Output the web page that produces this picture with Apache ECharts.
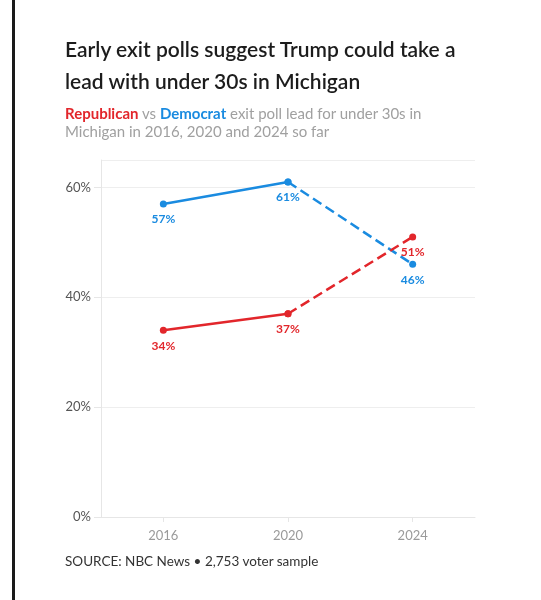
<!DOCTYPE html>
<html><head><meta charset="utf-8">
<script src="https://cdn.jsdelivr.net/npm/echarts@6/dist/echarts.min.js"></script>
<style>
body{margin:0;background:#fff;font-family:Lato,"Open Sans",sans-serif;}
#bar{position:absolute;left:12px;top:0;width:3px;height:600px;background:#1a1a1a;}
#t{position:absolute;left:65px;top:33px;width:420px;font-size:21px;line-height:32px;color:#1c1c1c;font-weight:600;}
#s{position:absolute;left:65px;top:104px;width:385px;font-size:15px;line-height:18px;color:#a0a0a0;}
#src{position:absolute;left:65px;top:553px;font-size:13.5px;color:#333;}
#c{position:absolute;left:0;top:0;width:541px;height:600px;}
</style></head><body>
<div id="c"></div>
<div id="bar"></div>
<div id="t">Early exit polls suggest Trump could take a lead with under 30s in Michigan</div>
<div id="s"><b style="color:#e2262b;font-weight:700">Republican</b> vs <b style="color:#1a8be0;font-weight:700">Democrat</b> exit poll lead for under 30s in Michigan in 2016, 2020 and 2024 so far</div>
<div id="src">SOURCE: NBC News • 2,753 voter sample</div>
<script>
const years=['2016','2020','2024'];
const dem=[57,61,46];
const rep=[34,37,51];
const blue='#1a8be0', red='#e2262b';
function solid(a){return [a[0],a[1],null];}
function dashed(a){return [null,a[1],a[2]];}
function lab(c,lastOnly){return {show:true,position:'bottom',distance:6,color:c,fontSize:12,fontWeight:'bold',fontFamily:'Lato',
 formatter:p=>(!lastOnly||p.dataIndex===2)?p.value+'%':''};}
function ser(d,c,type,label){return {type:'line',data:d,symbol:'circle',symbolSize:7,connectNulls:false,
 lineStyle:{color:c,width:2.5,type:type},itemStyle:{color:c},label:label||{show:false},z:3};}
const ch=echarts.init(document.getElementById('c'));
ch.setOption({animation:false,
 grid:{left:101,right:66,top:160,bottom:83},
 xAxis:{type:'category',data:years,boundaryGap:true,
  axisLine:{lineStyle:{color:'#e6e6e6'}},axisTick:{show:true,alignWithLabel:true,lineStyle:{color:'#e6e6e6'}},
  axisLabel:{color:'#9a9a9a',fontSize:13,margin:12,fontFamily:'Lato'}},
 yAxis:{type:'value',min:0,max:65,interval:20,
  axisLine:{show:true,lineStyle:{color:'#e6e6e6'}},axisTick:{show:true,length:7,lineStyle:{color:'#e6e6e6'}},
  splitLine:{lineStyle:{color:'#eeeeee'}},
  axisLabel:{color:'#555',fontSize:13,formatter:'{value}%',margin:10,fontFamily:'Lato',showMaxLabel:false}},
 series:[
  ser(solid(dem),blue,'solid',lab(blue,false)),
  ser(dashed(dem),blue,'dashed',lab(blue,true)),
  ser(solid(rep),red,'solid',lab(red,false)),
  ser(dashed(rep),red,'dashed',lab(red,true))
 ]});
</script></body></html>
